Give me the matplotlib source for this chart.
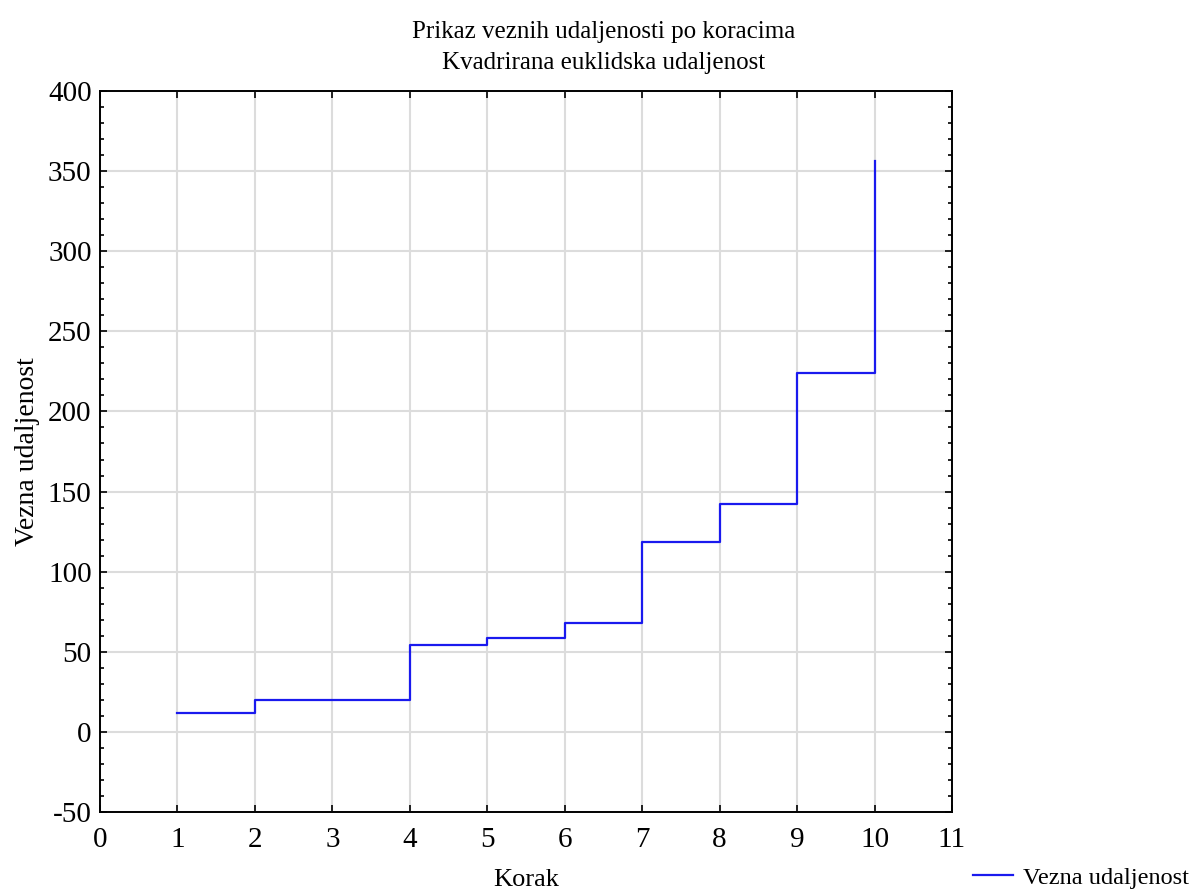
import matplotlib
matplotlib.use("Agg")
import matplotlib.pyplot as plt
from matplotlib.ticker import MultipleLocator

steps = [1, 2, 3, 4, 5, 6, 7, 8, 9, 10]
distance = [12.0, 19.6, 20.2, 54.5, 58.9, 67.8, 118.6, 142.3, 223.7, 356.3]

plt.rcParams["font.family"] = ["Liberation Serif", "DejaVu Serif"]
plt.rcParams["axes.unicode_minus"] = False

fig = plt.figure(figsize=(11.98, 8.91), dpi=100)
ax = fig.add_axes([100 / 1198, 1 - 812 / 891, 852 / 1198, 721 / 891])

ax.step(steps, distance, where="post", color="#1a1aee", lw=1.6, label="Vezna udaljenost")

ax.set_xlim(0, 11)
ax.set_ylim(-50, 400)
ax.xaxis.set_major_locator(MultipleLocator(1))
ax.yaxis.set_major_locator(MultipleLocator(50))
ax.yaxis.set_minor_locator(MultipleLocator(10))
ax.grid(True, which="major", color="#dcdcdc", lw=1.5)
ax.set_axisbelow(True)
ax.tick_params(which="both", direction="in", top=True, right=True, labelsize=21)
ax.tick_params(axis="x", pad=11)
ax.tick_params(axis="y", pad=6)
ax.tick_params(which="major", length=5, width=1.2)
ax.tick_params(which="minor", length=3, width=1.2)
for s in ax.spines.values():
    s.set_linewidth(1.4)

ax.set_xlabel("Korak", fontsize=19, labelpad=11)
ax.set_ylabel("Vezna udaljenost", fontsize=20, labelpad=6)

# two-line title, centred on the figure rather than the axes
fig.text(604 / 1198, 1 - 38 / 891, "Prikaz veznih udaljenosti po koracima",
         fontsize=18, ha="center", va="baseline")
fig.text(604 / 1198, 1 - 69 / 891, "Kvadrirana euklidska udaljenost",
         fontsize=18, ha="center", va="baseline")

ax.legend(loc="center left", bbox_to_anchor=(0.999, -0.091), frameon=False, fontsize=17.5,
          handlelength=1.65, handletextpad=0.4)

fig.savefig("out.png", dpi=100)
